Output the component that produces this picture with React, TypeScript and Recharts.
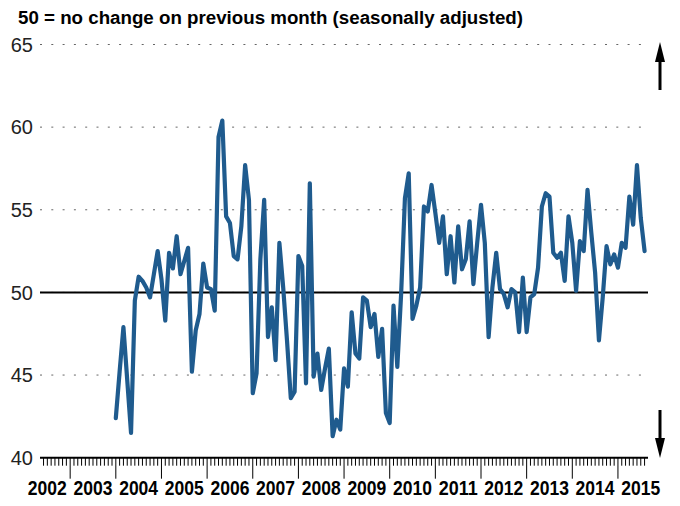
import React from "react";
import {
  LineChart,
  Line,
  XAxis,
  YAxis,
  CartesianGrid,
  ReferenceLine,
} from "recharts";

// month index counted from Jan 2002 (0); the series starts Jan 2004
const firstMonth = 24;
const years = ["2002", "2003", "2004", "2005", "2006", "2007", "2008", "2009", "2010", "2011", "2012", "2013", "2014", "2015"];
const yTicks = [40, 45, 50, 55, 60, 65];

const v2004 = [42.4, 45.2, 47.9, 44.7, 41.5, 49.5, 50.95, 50.7, 50.3, 49.7, 51.1, 52.5];
const v2005 = [50.8, 48.3, 52.4, 51.45, 53.4, 51.1, 51.9, 52.7, 45.2, 47.7, 48.7, 51.75];
const v2006 = [50.3, 50.2, 48.9, 59.4, 60.4, 54.6, 54.2, 52.2, 52.0, 54.0, 57.7, 55.6];
const v2007 = [43.9, 45.1, 52.0, 55.6, 47.3, 49.1, 45.9, 53.0, 50.3, 47.1, 43.6, 44.0];
const v2008 = [52.2, 51.6, 44.5, 56.6, 44.9, 46.3, 44.1, 45.4, 46.6, 41.3, 42.3, 41.7];
const v2009 = [45.4, 44.3, 48.8, 46.3, 46.0, 49.7, 49.5, 47.9, 48.7, 46.1, 47.8, 42.7];
const v2010 = [42.1, 49.2, 45.5, 49.9, 55.7, 57.2, 48.4, 49.2, 50.3, 55.2, 54.9, 56.5];
const v2011 = [54.8, 53.0, 54.6, 51.1, 53.4, 50.6, 54.0, 51.4, 52.0, 54.3, 50.5, 53.0];
const v2012 = [55.3, 53.0, 47.3, 50.3, 52.4, 50.2, 49.9, 49.1, 50.2, 50.0, 47.6, 50.9];
const v2013 = [47.6, 49.7, 49.9, 51.5, 55.2, 56.0, 55.8, 52.4, 52.1, 52.4, 50.7, 54.6];
const v2014 = [53.0, 50.1, 53.1, 52.5, 56.2, 53.6, 51.2, 47.1, 49.7, 52.8, 51.7, 52.3];
const v2015 = [51.5, 53.0, 52.7, 55.8, 54.1, 57.7, 54.5, 52.5];

const values = [
  ...v2004, ...v2005, ...v2006, ...v2007, ...v2008, ...v2009,
  ...v2010, ...v2011, ...v2012, ...v2013, ...v2014, ...v2015,
];
const data = values.map((v, i) => ({ m: firstMonth + i, v }));

const xDomain = [4.07, 163.9];
const monthTicks: number[] = [];
for (let m = Math.ceil(xDomain[0]); m <= Math.floor(xDomain[1]); m++) monthTicks.push(m);

const MonthTick = (props: any) => {
  const { x, y, payload } = props;
  const m = payload.value as number;
  const major = m % 12 === 0;
  return (
    <g>
      <line x1={x} x2={x} y1={y} y2={y + (major ? 21 : 8)} stroke="#000" strokeWidth={1} />
      {m % 12 === 6 && (
        <text
          x={x}
          y={y + 37}
          textAnchor="middle"
          fontSize={20}
          fontWeight="bold"
          fontFamily="Liberation Sans, Arial, sans-serif"
          fill="#000"
          textLength={39}
          lengthAdjust="spacingAndGlyphs"
        >
          {years[Math.floor(m / 12)]}
        </text>
      )}
    </g>
  );
};

export default function App() {
  return (
    <div style={{ position: "absolute", left: 0, top: 0, width: 680, height: 506, background: "#fff" }}>
      <LineChart
        width={680}
        height={506}
        data={data}
        margin={{ top: 44.5, right: 32, left: 0, bottom: 0 }}
      >
        <CartesianGrid vertical={false} stroke="#666" strokeDasharray="2 9.3" />
        <XAxis
          dataKey="m"
          type="number"
          domain={xDomain}
          allowDataOverflow
          ticks={monthTicks}
          interval={0}
          height={48.3}
          tickSize={0}
          tickMargin={0}
          tickLine={false}
          axisLine={{ stroke: "#000", strokeWidth: 2 }}
          tick={<MonthTick />}
        />
        <YAxis
          type="number"
          domain={[40, 65]}
          ticks={yTicks}
          width={40}
          axisLine={false}
          tickLine={false}
          tickSize={0}
          tickMargin={7}
          tick={{ fontSize: 20, fill: "#222", fontFamily: "Liberation Sans, Arial, sans-serif" }}
        />
        <ReferenceLine y={50} stroke="#000" strokeWidth={2} />
        <Line
          type="linear"
          dataKey="v"
          stroke="#1f5b8e"
          strokeWidth={4.2}
          strokeLinejoin="round"
          strokeLinecap="round"
          dot={false}
          activeDot={false}
          isAnimationActive={false}
        />
      </LineChart>
      <svg
        width={680}
        height={506}
        style={{ position: "absolute", left: 0, top: 0, pointerEvents: "none" }}
      >
        <text
          x={18}
          y={24}
          fontSize={17.5}
          fontWeight="bold"
          fontFamily="Liberation Sans, Arial, sans-serif"
          fill="#000"
          textLength={505}
          lengthAdjust="spacingAndGlyphs"
        >
          50 = no change on previous month (seasonally adjusted)
        </text>
        <line x1={660} x2={660} y1={90} y2={58} stroke="#000" strokeWidth={3} />
        <polygon points="660,42 655,62 665,62" fill="#000" />
        <line x1={660} x2={660} y1={410} y2={442} stroke="#000" strokeWidth={3} />
        <polygon points="660,458 655,438 665,438" fill="#000" />
      </svg>
    </div>
  );
}
